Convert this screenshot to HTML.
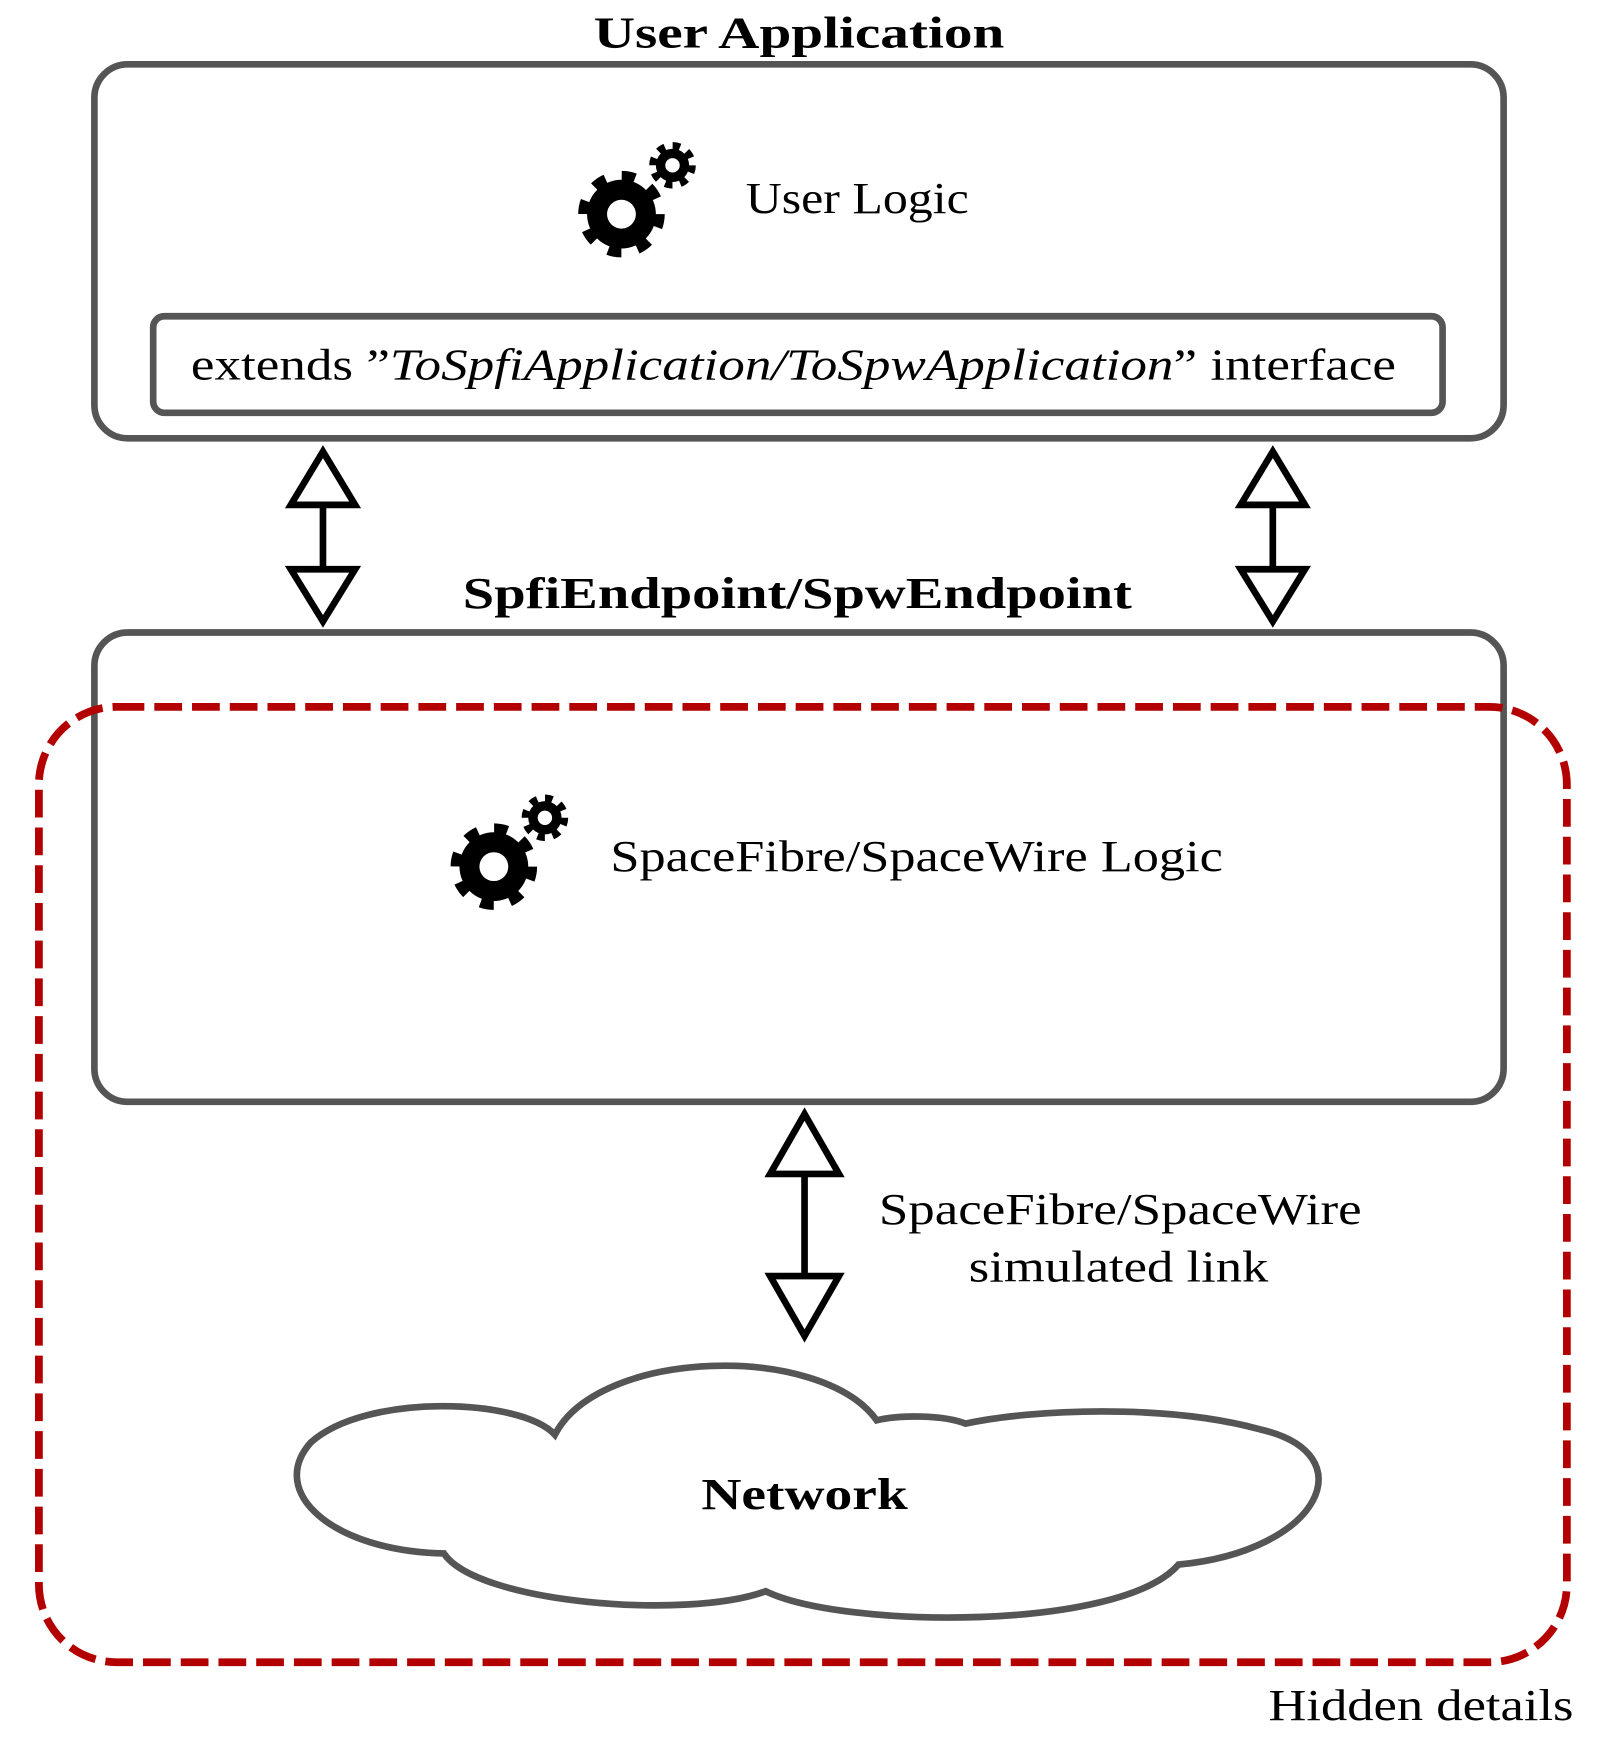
<!DOCTYPE html>
<html><head><meta charset="utf-8"><style>html,body{margin:0;padding:0;background:#fff}svg{display:block}</style></head>
<body>
<svg width="1598" height="1741" viewBox="0 0 1440 1569" xmlns="http://www.w3.org/2000/svg">
<defs>
<g id="gear">
  <circle cx="0" cy="0" r="31" fill="#000"/>
  <circle cx="0" cy="0" r="34" fill="none" stroke="#000" stroke-width="10" stroke-dasharray="12 14.7"/>
  <circle cx="0" cy="0" r="13" fill="#fff"/>
</g>
<g id="sgear">
  <circle cx="0" cy="0" r="15" fill="#000"/>
  <circle cx="0" cy="0" r="17" fill="none" stroke="#000" stroke-width="8" stroke-dasharray="6.5 6.85"/>
  <circle cx="0" cy="0" r="6.5" fill="#fff"/>
</g>
</defs>
<g font-family="'Liberation Serif', serif" fill="#000">
<text x="535" y="43" font-size="40" font-weight="bold" textLength="370" lengthAdjust="spacingAndGlyphs">User Application</text>
<rect x="85" y="58" width="1270" height="337" rx="30" fill="none" stroke="#555" stroke-width="6"/>
<use href="#gear" x="560" y="193"/>
<use href="#sgear" x="606" y="149"/>
<text x="672" y="192" font-size="40" textLength="201" lengthAdjust="spacingAndGlyphs">User Logic</text>
<rect x="138" y="285" width="1162" height="87" rx="10" fill="none" stroke="#555" stroke-width="6"/>
<text x="172" y="342" font-size="40" textLength="1086" lengthAdjust="spacingAndGlyphs">extends ”<tspan font-style="italic">ToSpfiApplication/ToSpwApplication</tspan>” interface</text>

<g fill="#fff" stroke="#000" stroke-width="6">
<line x1="291" y1="455" x2="291" y2="512"/>
<polygon points="291,407 262,455 320,455"/>
<polygon points="291,560 262,513 320,513"/>
<line x1="1147" y1="455" x2="1147" y2="512"/>
<polygon points="1147,407 1118,455 1176,455"/>
<polygon points="1147,560 1118,513 1176,513"/>
</g>

<text x="417" y="548" font-size="40" font-weight="bold" textLength="603" lengthAdjust="spacingAndGlyphs">SpfiEndpoint/SpwEndpoint</text>
<rect x="85" y="570" width="1270" height="423" rx="30" fill="none" stroke="#555" stroke-width="6"/>
<rect x="35" y="637" width="1377" height="861" rx="70" fill="none" stroke="#b30000" stroke-width="7" stroke-dasharray="25 9"/>

<use href="#gear" x="445" y="781"/>
<use href="#sgear" x="491" y="737"/>
<text x="550" y="785" font-size="40" textLength="552" lengthAdjust="spacingAndGlyphs">SpaceFibre/SpaceWire Logic</text>

<g fill="#fff" stroke="#000" stroke-width="6">
<line x1="725" y1="1058" x2="725" y2="1150"/>
<polygon points="725,1004 694,1058 756,1058"/>
<polygon points="725,1204 694,1150 756,1150"/>
</g>
<text x="792" y="1103" font-size="40" textLength="435" lengthAdjust="spacingAndGlyphs">SpaceFibre/SpaceWire</text>
<text x="873" y="1155" font-size="40" textLength="270" lengthAdjust="spacingAndGlyphs">simulated link</text>

<path d="M500,1293 C470,1260 330,1255 280,1300 C240,1345 300,1398 400,1400 C430,1445 620,1460 690,1434 C760,1468 1010,1470 1062,1410 C1190,1398 1232,1310 1135,1288 C1050,1265 930,1270 870,1283 C850,1275 810,1275 790,1280 C740,1210 540,1215 500,1293 Z" fill="#fff" stroke="#555" stroke-width="6"/>
<text x="632" y="1360" font-size="40" font-weight="bold" textLength="186" lengthAdjust="spacingAndGlyphs">Network</text>
<text x="1143" y="1550" font-size="40" textLength="275" lengthAdjust="spacingAndGlyphs">Hidden details</text>
</g>
</svg>
</body></html>
